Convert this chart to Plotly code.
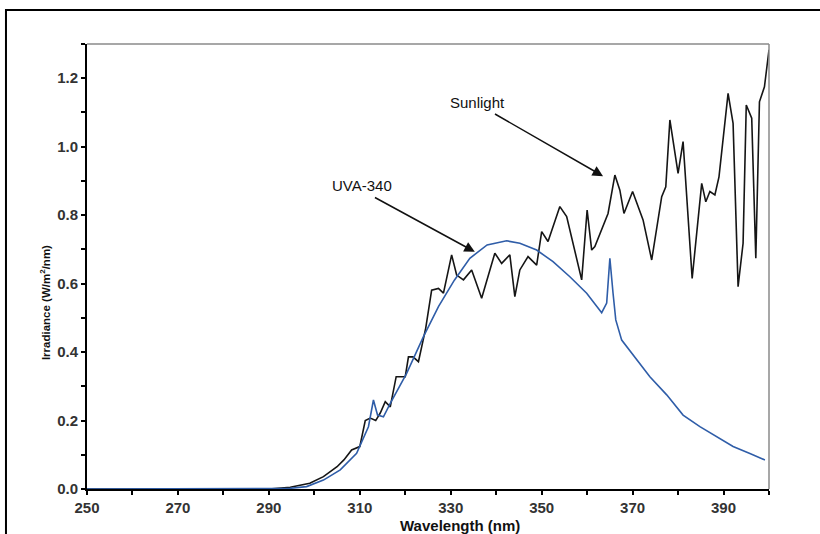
import plotly.graph_objects as go

# Sunlight spectrum (nm, W/m2/nm)
sun_nm = [250, 290, 294.7, 299, 302, 305, 306.5, 308.2, 310, 311.2, 312.3, 313.5, 314.5, 315.6,
          316.7, 318, 320, 320.7, 321.7, 322.9, 324.5, 325.8, 327.3, 328.4, 330.2, 331.3, 332.8,
          334.6, 336.8, 339.7, 341.2, 343, 344.1, 345.2, 347, 348.9, 350, 351.4, 354, 355.5,
          358.8, 360, 361, 361.7, 364.6, 366.1, 367.2, 368.1, 370, 372.3, 374.2, 376.4, 377.3,
          378.2, 380, 381.1, 383.1, 385.2, 386.1, 387, 388.1, 389, 391, 392.1, 393.2, 394.3,
          395, 396.2, 397.1, 397.9, 399, 400]
sun_val = [0, 0, 0.005, 0.017, 0.036, 0.065, 0.085, 0.114, 0.124, 0.2, 0.207, 0.2, 0.222, 0.255,
           0.24, 0.328, 0.328, 0.386, 0.386, 0.372, 0.47, 0.581, 0.586, 0.572, 0.684, 0.625, 0.611,
           0.64, 0.557, 0.689, 0.659, 0.684, 0.562, 0.64, 0.679, 0.654, 0.752, 0.723, 0.825, 0.796,
           0.611, 0.815, 0.698, 0.708, 0.805, 0.917, 0.873, 0.805, 0.869, 0.786, 0.669, 0.854, 0.883,
           1.078, 0.922, 1.015, 0.615, 0.893, 0.839, 0.869, 0.859, 0.912, 1.156, 1.068, 0.591, 0.718,
           1.122, 1.083, 0.674, 1.131, 1.175, 1.283]

# UVA-340 lamp spectrum
uva_nm = [250, 290, 294.7, 298.3, 302, 305.7, 309.3, 311.9, 313, 313.9, 315.2, 316.7, 320.3, 324,
          327.3, 330.8, 334.2, 338, 342.3, 345.2, 348.9, 352.5, 356.2, 359.9, 363.2, 364.3, 365,
          365.7, 366.3, 367.6, 370.1, 373.8, 377.5, 381.1, 384.8, 388.5, 392.1, 395.8, 399.1]
uva_val = [0, 0, 0.002, 0.007, 0.026, 0.056, 0.104, 0.182, 0.26, 0.216, 0.211, 0.25, 0.338, 0.445,
           0.533, 0.61, 0.674, 0.713, 0.725, 0.718, 0.698, 0.664, 0.62, 0.572, 0.515, 0.543, 0.674,
           0.572, 0.494, 0.435, 0.391, 0.328, 0.275, 0.216, 0.182, 0.153, 0.124, 0.104, 0.085]

x_ticks = [250, 270, 290, 310, 330, 350, 370, 390]
y_ticks = [0.0, 0.2, 0.4, 0.6, 0.8, 1.0, 1.2]

FONT = "Liberation Sans, Arial, sans-serif"

fig = go.Figure()
fig.add_trace(go.Scatter(x=sun_nm, y=sun_val, mode="lines",
                         line=dict(color="#151515", width=1.6), name="Sunlight"))
fig.add_trace(go.Scatter(x=uva_nm, y=uva_val, mode="lines",
                         line=dict(color="#2F5DA8", width=1.6), name="UVA-340"))

axis_common = dict(showgrid=False, zeroline=False, showline=True, linecolor="#000",
                   linewidth=2, ticks="outside", tickcolor="#000", ticklen=4, tickwidth=1.5,
                   tickfont=dict(family=FONT, size=15, color="#333", weight="bold"))

fig.update_xaxes(range=[250, 400], tickvals=x_ticks, ticktext=[str(v) for v in x_ticks],
                 minor=dict(dtick=10, tick0=250, ticks="outside", ticklen=4, tickcolor="#000", tickwidth=1.5),
                 **axis_common)
fig.update_yaxes(range=[0, 1.3], tickvals=y_ticks, tickformat=".1f",
                 minor=dict(dtick=0.1, tick0=0, ticks="outside", ticklen=4, tickcolor="#000", tickwidth=1.5),
                 **axis_common)

shapes = [
    # top & right frame of plot area
    dict(type="line", xref="paper", yref="paper", x0=0, y0=1, x1=1, y1=1,
         line=dict(color="#8a8a8a", width=1.5)),
    dict(type="line", xref="paper", yref="paper", x0=1, y0=0, x1=1, y1=1,
         line=dict(color="#8a8a8a", width=1.5)),
    # outer border of the figure
    dict(type="rect", xref="paper", yref="paper", x0=-0.1188, y0=-0.2, x1=1.2, y1=1.0764,
         line=dict(color="#000", width=2), fillcolor="rgba(0,0,0,0)"),
]

PX_PER_NM = 4.55
annotations = [
    dict(text="Irradiance (W/m<sup>2</sup>/nm)", textangle=-90, x=-0.0616, y=0.42,
         xref="paper", yref="paper", showarrow=False, xanchor="center", yanchor="middle",
         font=dict(family=FONT, size=11.5, color="#111", weight="bold")),
    dict(text="Wavelength (nm)", x=0.547, y=-0.081, xref="paper", yref="paper", showarrow=False,
         xanchor="center", yanchor="middle",
         font=dict(family=FONT, size=15, color="#111", weight="bold")),
    dict(text="Sunlight", x=250 + (478 - 87) / PX_PER_NM, y=1.13, xref="x", yref="y", showarrow=False,
         font=dict(family=FONT, size=15, color="#111")),
    dict(text="", x=363.5, y=0.914, ax=339.4, ay=1.098, xref="x", yref="y", axref="x", ayref="y",
         showarrow=True, arrowhead=2, arrowsize=1.4, arrowwidth=1.5, arrowcolor="#111"),
    dict(text="UVA-340", x=250 + (362.5 - 87) / PX_PER_NM, y=0.888, xref="x", yref="y", showarrow=False,
         font=dict(family=FONT, size=15, color="#111")),
    dict(text="", x=335.3, y=0.693, ax=313, ay=0.854, xref="x", yref="y", axref="x", ayref="y",
         showarrow=True, arrowhead=2, arrowsize=1.4, arrowwidth=1.5, arrowcolor="#111"),
]

fig.update_layout(width=820, height=534, margin=dict(l=87, r=51, t=44, b=45, autoexpand=False),
                  plot_bgcolor="white", paper_bgcolor="white", showlegend=False,
                  shapes=shapes, annotations=annotations)

fig.write_html("out.html", config={"displayModeBar": False},
               post_script="document.body.style.margin='0';document.body.style.overflow='hidden';")
